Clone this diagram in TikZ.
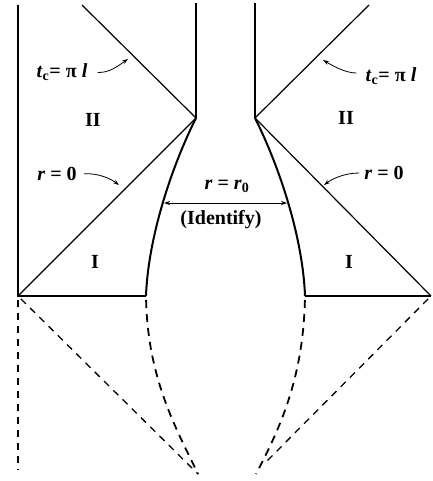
\documentclass[tikz,border=0pt]{standalone}
\usepackage{fontspec}
\setmainfont{Liberation Serif}
\usetikzlibrary{arrows.meta}

\begin{document}
\begin{tikzpicture}[
  x=1pt, y=-1pt, >={Stealth[length=6pt,width=4pt]},
  wall/.style={line width=1.6pt},
  edge/.style={line width=1.2pt},
  throat/.style={line width=2pt},
  ext/.style={line width=1.3pt, dash pattern=on 7pt off 6pt, shorten <=4pt},
  extthick/.style={line width=1.8pt, dash pattern=on 8pt off 6pt, shorten <=4pt},
  lbl/.style={font=\fontsize{20}{23}\selectfont\bfseries, inner sep=0pt},
  note/.style={->, line width=0.8pt}]
\useasboundingbox (0,0) rectangle (432,481);
% left patch
\coordinate (lt) at (18,5);   \coordinate (lb) at (18,296);
\coordinate (lvt) at (196,3); \coordinate (lv) at (196,118);
\coordinate (ld) at (82,5);   \coordinate (lf) at (146,296);
% right patch
\coordinate (rvt) at (255,3); \coordinate (rv) at (255,118);
\coordinate (rd) at (369,5);  \coordinate (rf) at (305,296);
\coordinate (rb) at (431,296);
% ends of the dashed extensions
\coordinate (ldv) at (18,470);  \coordinate (lcv) at (198,474);
\coordinate (rcv) at (256,474); \coordinate (rdd) at (266,462);
\coordinate (idl) at (164,203); \coordinate (idr) at (287,203);
\coordinate (tclh) at (128,59); \coordinate (tcrh) at (323,60);
\coordinate (rzlh) at (119,185); \coordinate (rzrh) at (324,185);

\draw[wall] (lt) -- (lb) -- (lf);
\draw[wall] (lvt) -- (lv);
\draw[edge] (ld) -- (lv) -- (lb);
\draw[throat] (lv) .. controls (170,170) and (148,240) .. (lf);
\draw[wall] (rvt) -- (rv);
\draw[wall] (rf) -- (rb);
\draw[edge] (rd) -- (rv) -- (rb);
\draw[throat] (rv) .. controls (281,170) and (303,240) .. (rf);

\draw[ext, line width=1.6pt] (lb) -- (ldv);
\draw[ext] (lb) -- (lcv);
\draw[extthick] (lf) .. controls (148,380) and (177,430) .. (lcv);
\draw[extthick] (rf) .. controls (303,380) and (279,430) .. (rcv);
\draw[ext] (rb) -- (rdd);

\node[lbl] (tcl) at (62,72) {\textit{t}\textsubscript{c}= π \textit{l}};
\node[lbl] (tcr) at (391,76) {\textit{t}\textsubscript{c}= π \textit{l}};
\node[lbl] (iil) at (93,120) {II};
\node[lbl] (iir) at (346,118) {II};
\node[lbl] (rzl) at (57,174) {\textit{r} = 0};
\node[lbl] (rzr) at (384,173) {\textit{r} = 0};
\node[lbl] (rro) at (227,186) {\textit{r} = \textit{r}\textsubscript{0}};
\node[lbl] (idf) at (221,220) {(Identify)};
\node[lbl] (il) at (95,262) {I};
\node[lbl] (ir) at (349,262) {I};

\draw[note, shorten <=10pt] (tcl.east) .. controls +(22,1) and +(-10,7) .. (tclh);
\draw[note, shorten <=9pt] ([yshift=3pt]tcr.west) .. controls +(-20,0) and +(10,6) .. (tcrh);
\draw[note, shorten <=7pt] (rzl.east) .. controls +(22,-1) and +(-8,-6) .. (rzlh);
\draw[note, shorten <=5pt] (rzr.west) .. controls +(-20,0) and +(8,-6) .. (rzrh);
\draw[<->, line width=0.8pt] (idl) -- (idr);
\end{tikzpicture}
\end{document}
